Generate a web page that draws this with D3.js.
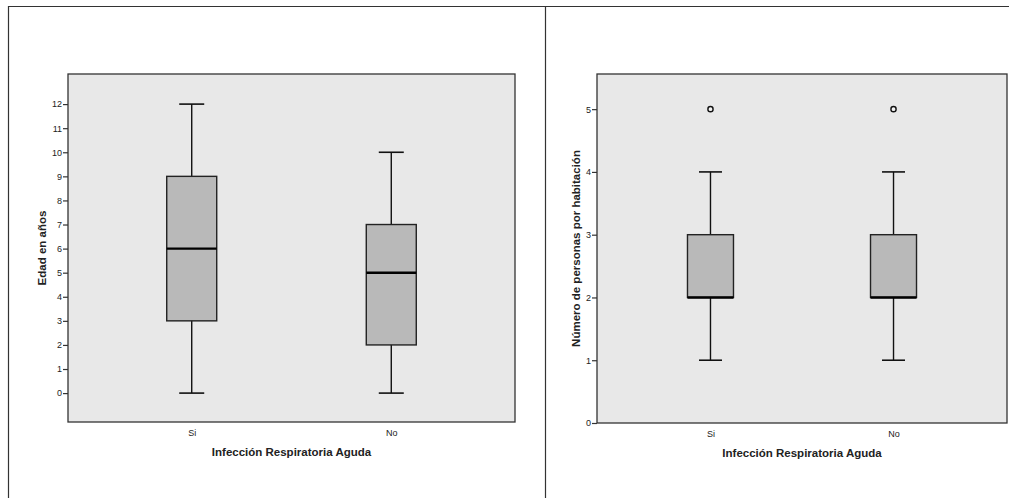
<!DOCTYPE html>
<html>
<head>
<meta charset="utf-8">
<script src="https://cdn.jsdelivr.net/npm/d3@7"></script>
<style>
  body { margin: 0; background: #fff; }
  svg { display: block; font-family: "Liberation Sans", Arial, sans-serif; }
</style>
</head>
<body>
<svg id="chart" width="1009" height="498"></svg>
<script>
// categories and box statistics
const categories = ["Si", "No"];

// left: Edad en años
const edadMin = [0, 0];
const edadQ1 = [3, 2];
const edadMedian = [6, 5];
const edadQ3 = [9, 7];
const edadMax = [12, 10];
const edadOutliers = [[], []];
const edadTicks = [0, 1, 2, 3, 4, 5, 6, 7, 8, 9, 10, 11, 12];

// right: Número de personas por habitación
const persMin = [1, 1];
const persQ1 = [2, 2];
const persMedian = [2, 2];
const persQ3 = [3, 3];
const persMax = [4, 4];
const persOutliers = [[5], [5]];
const persTicks = [0, 1, 2, 3, 4, 5];

const xTitle = "Infección Respiratoria Aguda";

const svg = d3.select("#chart");

// outer frame
svg.append("path")
  .attr("d", "M8.5,498 V6.5 H1009 M545.5,6.5 V498")
  .attr("fill", "none")
  .attr("stroke", "#333")
  .attr("stroke-width", 1.2);

function boxPanel({ left, right, top, bottom, domain, ticks, mins, q1s, meds, q3s, maxs, outs, yTitle, yTitleX, boxW }) {
  const g = svg.append("g");
  const x = d3.scalePoint().domain(categories).range([left, right]).padding(0.62);
  const y = d3.scaleLinear().domain(domain).range([bottom, top]);

  g.append("rect")
    .attr("x", left).attr("y", top)
    .attr("width", right - left).attr("height", bottom - top)
    .attr("fill", "#e8e8e8")
    .attr("stroke", "#333")
    .attr("stroke-width", 1.3);

  const boxes = categories.map((c, i) => ({
    c, min: mins[i], q1: q1s[i], med: meds[i], q3: q3s[i], max: maxs[i], out: outs[i]
  }));

  const b = g.selectAll("g.box").data(boxes).join("g").attr("class", "box");
  const cap = boxW * 0.5;

  b.append("line")
    .attr("x1", d => x(d.c)).attr("x2", d => x(d.c))
    .attr("y1", d => y(d.max)).attr("y2", d => y(d.min))
    .attr("stroke", "#111").attr("stroke-width", 1.4);
  b.append("line")
    .attr("x1", d => x(d.c) - cap / 2).attr("x2", d => x(d.c) + cap / 2)
    .attr("y1", d => y(d.max)).attr("y2", d => y(d.max))
    .attr("stroke", "#111").attr("stroke-width", 1.6);
  b.append("line")
    .attr("x1", d => x(d.c) - cap / 2).attr("x2", d => x(d.c) + cap / 2)
    .attr("y1", d => y(d.min)).attr("y2", d => y(d.min))
    .attr("stroke", "#111").attr("stroke-width", 1.6);
  b.append("rect")
    .attr("x", d => x(d.c) - boxW / 2).attr("width", boxW)
    .attr("y", d => y(d.q3)).attr("height", d => y(d.q1) - y(d.q3))
    .attr("fill", "#b9b9b9")
    .attr("stroke", "#222").attr("stroke-width", 1.4);
  b.append("line")
    .attr("x1", d => x(d.c) - boxW / 2).attr("x2", d => x(d.c) + boxW / 2)
    .attr("y1", d => y(d.med)).attr("y2", d => y(d.med))
    .attr("stroke", "#000").attr("stroke-width", 2.4);
  b.selectAll("circle").data(d => d.out.map(v => ({ c: d.c, v }))).join("circle")
    .attr("cx", d => x(d.c)).attr("cy", d => y(d.v)).attr("r", 2.6)
    .attr("fill", "#f4f4f4").attr("stroke", "#111").attr("stroke-width", 1.4);

  // y axis
  const ya = g.append("g")
    .attr("transform", `translate(${left},0)`)
    .call(d3.axisLeft(y).tickValues(ticks).tickSize(5).tickPadding(1).tickFormat(d3.format("d")));
  ya.select(".domain").remove();
  ya.selectAll("line").attr("stroke", "#333").attr("stroke-width", 1.2);
  ya.selectAll("text").attr("font-size", 9).attr("fill", "#222").attr("font-family", null);

  // x axis
  const xa = g.append("g")
    .attr("transform", `translate(0,${bottom})`)
    .call(d3.axisBottom(x).tickSize(0).tickPadding(8));
  xa.select(".domain").remove();
  xa.selectAll("text").attr("font-size", 9).attr("fill", "#222").attr("font-family", null);

  g.append("text")
    .attr("x", (left + right) / 2).attr("y", bottom + 34)
    .attr("text-anchor", "middle")
    .attr("font-size", 11.5).attr("font-weight", "bold").attr("fill", "#222")
    .text(xTitle);

  g.append("text")
    .attr("transform", `translate(${yTitleX},${(top + bottom) / 2}) rotate(-90)`)
    .attr("text-anchor", "middle")
    .attr("font-size", 11.5).attr("font-weight", "bold").attr("fill", "#222")
    .text(yTitle);
}

boxPanel({
  left: 68, right: 515, top: 74, bottom: 422,
  domain: [-1.2, 13.25], ticks: edadTicks,
  mins: edadMin, q1s: edadQ1, meds: edadMedian, q3s: edadQ3, maxs: edadMax, outs: edadOutliers,
  yTitle: "Edad en años", yTitleX: 46, boxW: 50
});

boxPanel({
  left: 597, right: 1007, top: 74, bottom: 423,
  domain: [0, 5.56], ticks: persTicks,
  mins: persMin, q1s: persQ1, meds: persMedian, q3s: persQ3, maxs: persMax, outs: persOutliers,
  yTitle: "Número de personas por habitación", yTitleX: 580, boxW: 46
});
</script>
</body>
</html>
